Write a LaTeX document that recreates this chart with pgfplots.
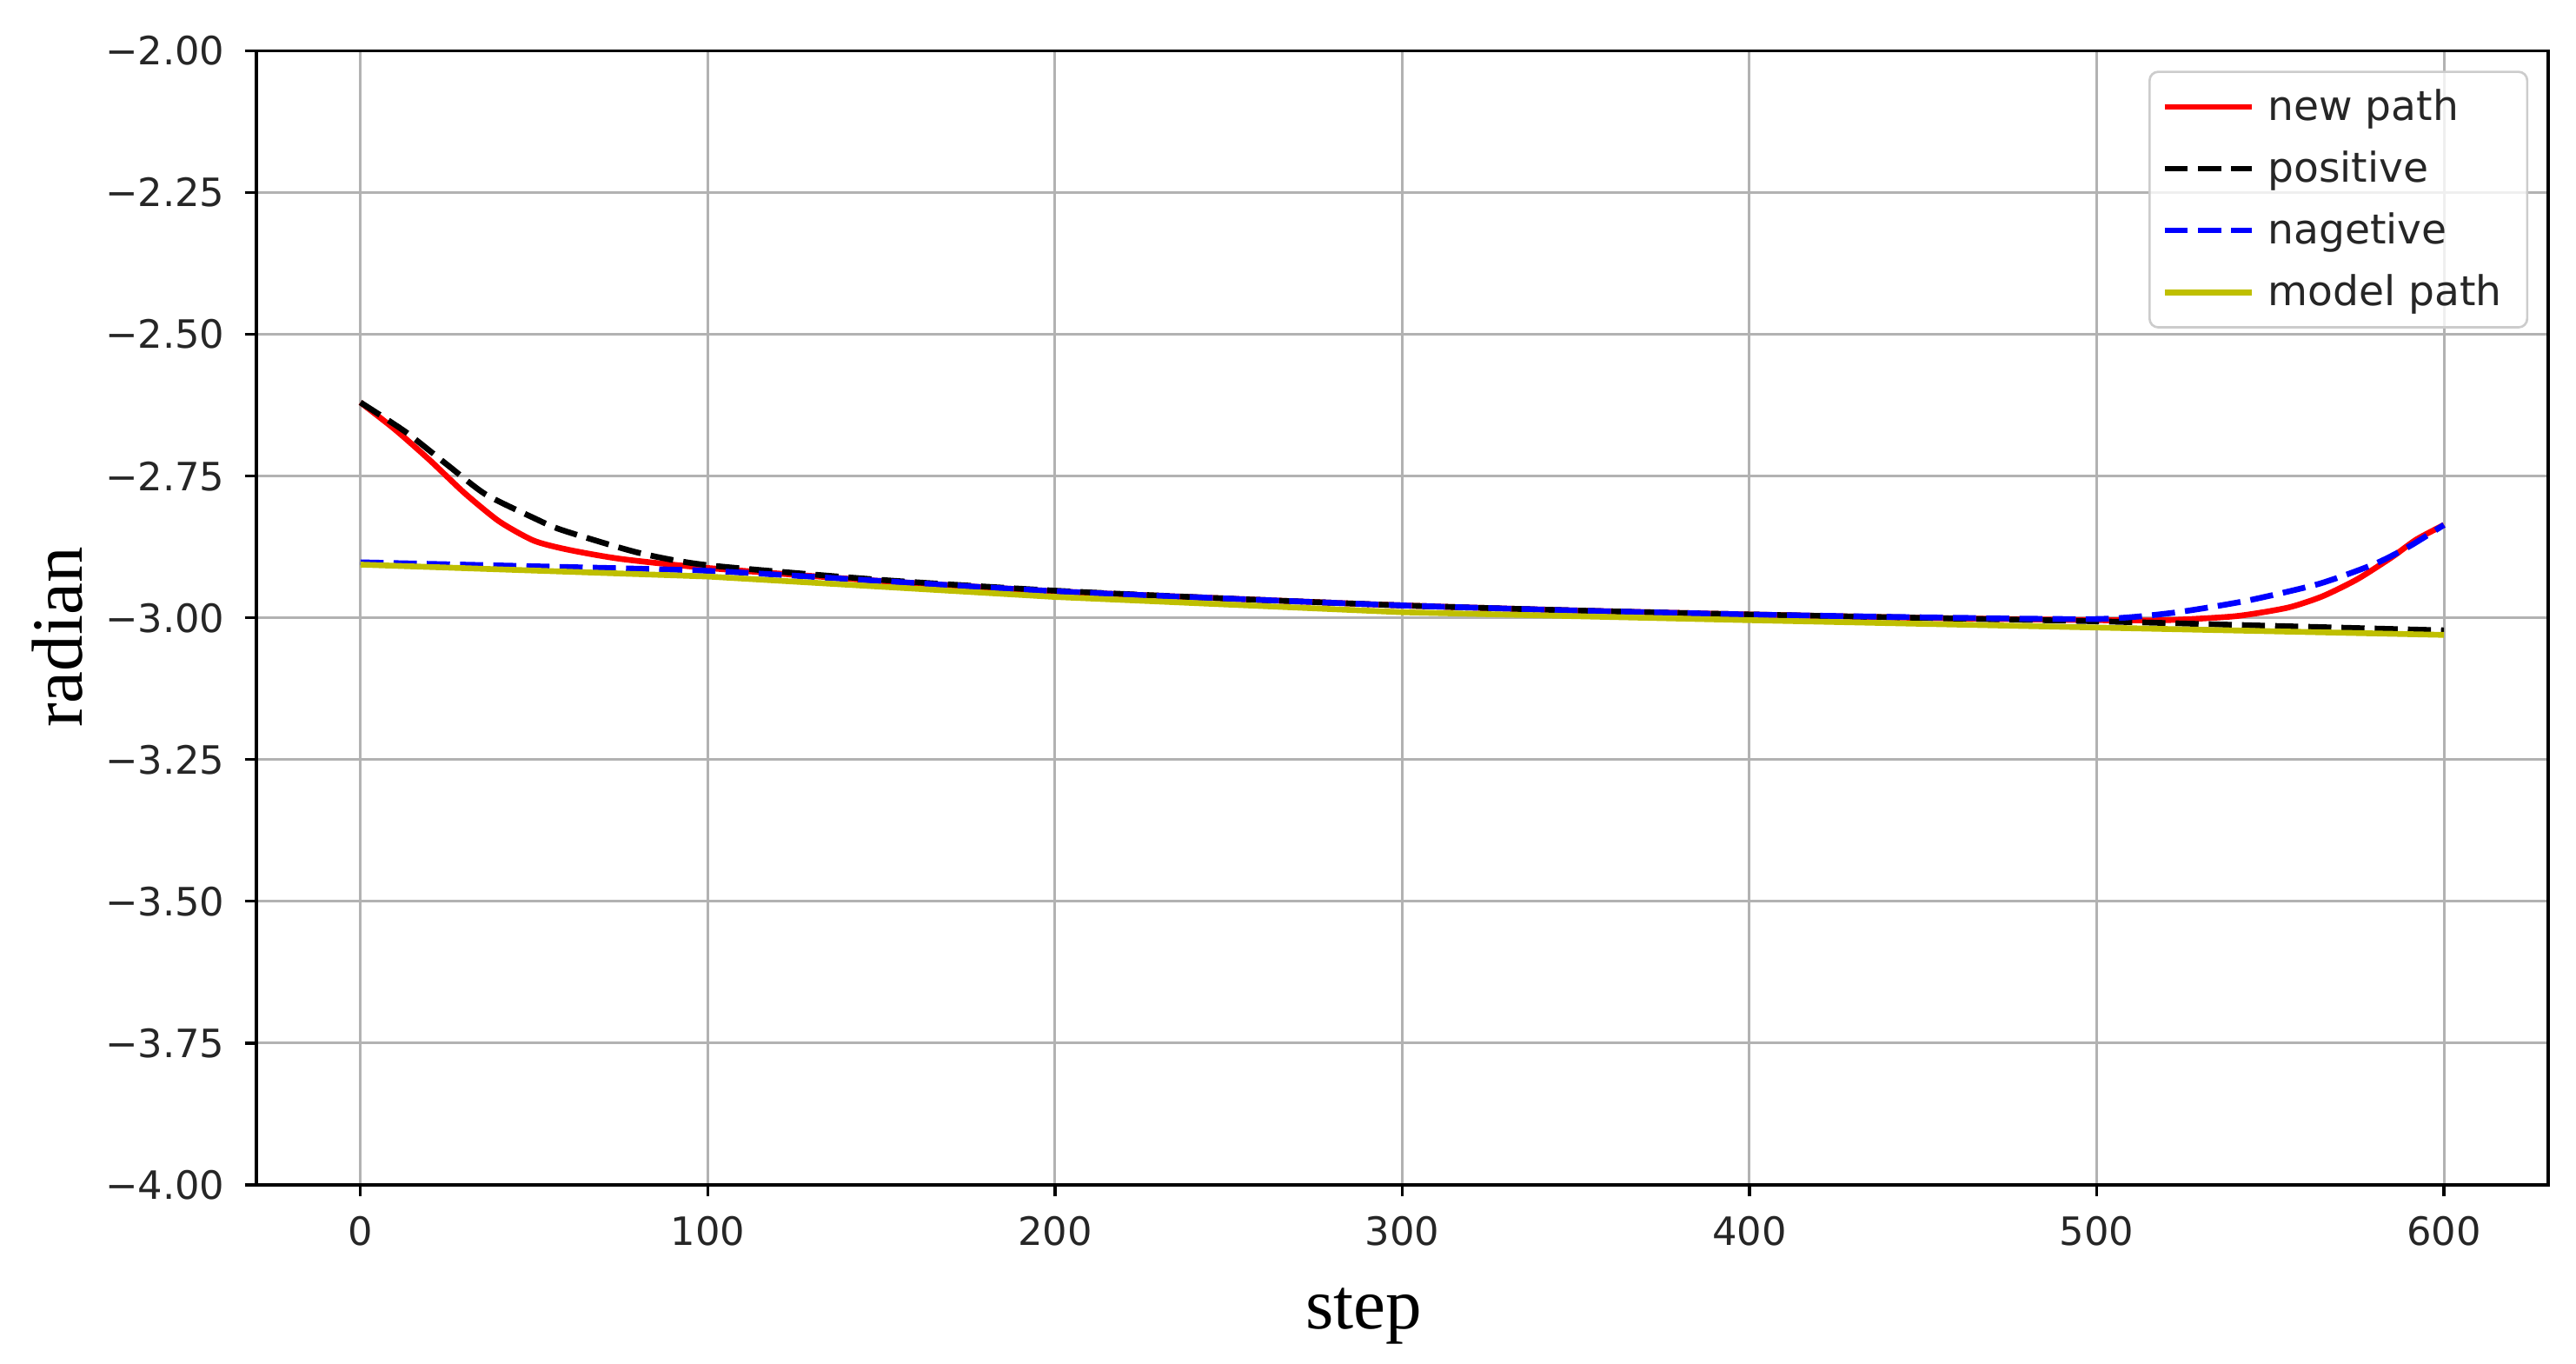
\documentclass[border=0pt]{standalone}
\usepackage{pgfplots}
\pgfplotsset{compat=1.18}
\usepackage{fontspec}
\setmainfont{DejaVu Sans}
\newfontfamily\serif{Liberation Serif}
\definecolor{myyellow}{rgb}{0.75,0.75,0}
\begin{document}
\begin{tikzpicture}
\path[use as bounding box] (-31.2mm,-21.8mm) rectangle (282.4mm,144.2mm);
\begin{axis}[
  scale only axis,
  width=279mm, height=138mm,
  xmin=-30, xmax=630, ymin=-4, ymax=-2,
  xtick={0,100,...,600},
  ytick={-4,-3.75,-3.5,-3.25,-3,-2.75,-2.5,-2.25,-2},
  yticklabels={−4.00,−3.75,−3.50,−3.25,−3.00,−2.75,−2.50,−2.25,−2.00},
  /pgf/number format/assume math mode=true,
  tick label style={font=\fontsize{13.5}{15}\selectfont, text=black!85},
  xticklabel style={yshift=-1.2mm},
  yticklabel style={xshift=-1.2mm},
  xtick pos=bottom, ytick pos=left,
  tick align=outside,
  major tick length=4pt,
  tick style={black, line width=1pt},
  axis line style={black, line width=1.1pt},
  grid=major,
  major grid style={color=black!30, line width=0.9pt},
  xlabel={step},
  ylabel={radian},
  xlabel style={font=\serif\fontsize{25}{30}\selectfont, at={(axis description cs:0.4832,-0.116)}, anchor=center},
  ylabel style={font=\serif\fontsize{25}{30}\selectfont, at={(axis description cs:-0.0867,0.483)}, anchor=center},
  legend cell align=left,
  legend image code/.code={\draw[#1] (0mm,0mm) -- (10.6mm,0mm);},
  legend style={at={(rel axis cs:0.9914,0.9826)}, anchor=north east,
    draw=black!20, line width=0.8pt, rounded corners=3pt, fill=white, fill opacity=0.8, text opacity=1,
    font=\fontsize{14.2}{16}\selectfont, text=black!85, row sep=1.8mm, inner xsep=1.5mm, inner ysep=1.4mm,
    nodes={inner xsep=1.6mm}},
]
\addplot[color=red, line width=2pt, smooth, tension=0.4] coordinates {
(0,-2.620) (10,-2.668) (20,-2.722) (30,-2.780) (40,-2.830) (50,-2.864) (60,-2.880) (75,-2.896) (100,-2.912) (150,-2.935) (200,-2.953) (250,-2.966) (300,-2.978) (350,-2.987) (400,-2.994) (450,-3.000) (500,-3.004) (520,-3.004) (540,-2.997) (555,-2.982) (565,-2.962) (575,-2.932) (585,-2.893) (592,-2.862) (600,-2.836)
};
\addlegendentry{new path}
\addplot[color=black, line width=2pt, dash pattern=on 8pt off 3.5pt, smooth, tension=0.4] coordinates {
(0,-2.620) (13,-2.672) (25,-2.730) (36,-2.782) (50,-2.824) (58,-2.845) (80,-2.885) (100,-2.907) (150,-2.933) (200,-2.952) (250,-2.966) (300,-2.978) (350,-2.987) (400,-2.994) (450,-3.000) (500,-3.006) (550,-3.014) (600,-3.022)
};
\addlegendentry{positive}
\addplot[color=blue, line width=2pt, dash pattern=on 8pt off 3.5pt, smooth, tension=0.4] coordinates {
(0,-2.902) (50,-2.909) (100,-2.917) (150,-2.935) (200,-2.953) (250,-2.966) (300,-2.978) (350,-2.987) (400,-2.994) (450,-2.999) (500,-3.002) (522,-2.991) (543,-2.970) (564,-2.940) (580,-2.905) (590,-2.874) (600,-2.836)
};
\addlegendentry{nagetive}
\addplot[color=myyellow, line width=2pt] coordinates {
(0,-2.906) (100,-2.927) (200,-2.963) (300,-2.990) (400,-3.004) (500,-3.017) (600,-3.030)
};
\addlegendentry{model path}
\end{axis}
\end{tikzpicture}
\end{document}
